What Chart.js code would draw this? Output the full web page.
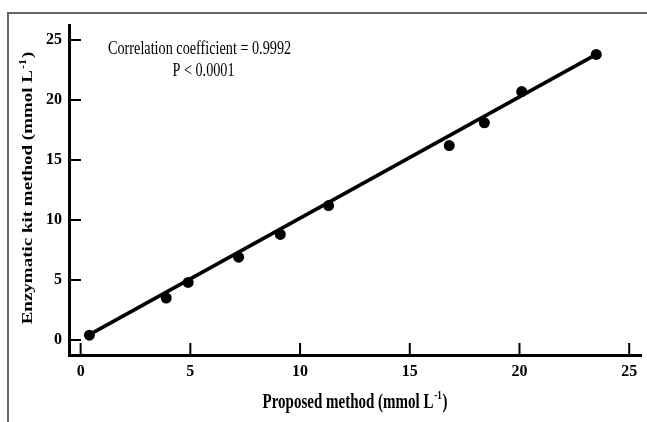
<!DOCTYPE html>
<html lang="en">
  <head>
    <meta charset="UTF-8" />
    <title>Proposed vs enzymatic kit method</title>
    <style>
      body {
        margin: 0;
        background: #fff;
        font-family: "Liberation Serif", serif;
      }
      #wrap {
        position: relative;
        width: 647px;
        height: 422px;
      }
      #frame {
        position: absolute;
        left: 7px;
        top: 12px;
        right: 0;
        bottom: 0;
        border-top: 2px solid #666;
        border-left: 2px solid #666;
      }
      canvas {
        position: absolute;
        left: 0;
        top: 0;
      }
    </style>
  </head>
  <body>
    <div id="wrap">
      <div id="frame"></div>
      <canvas id="corrChart" width="647" height="422"></canvas>
    </div>
    <script src="https://cdn.jsdelivr.net/npm/chart.js"></script>
    <script>
      // values (mmol L-1)
      const proposed = [0.4, 3.9, 4.9, 7.2, 9.1, 11.3, 16.8, 18.4, 20.1, 23.5];
      const enzymatic = [0.4, 3.5, 4.8, 6.9, 8.8, 11.2, 16.2, 18.1, 20.7, 23.8];

      // fitted line end points
      const fitX = [0.4, 23.5];
      const fitY = [0.45, 23.8];

      const xTicks = [0, 5, 10, 15, 20, 25];
      const yTicks = [0, 5, 10, 15, 20, 25];

      const statsText = ["Correlation coefficient = 0.9992", "P < 0.0001"];
      const xTitle = ["Proposed method (mmol L", "-1", ")"];
      const yTitle = ["Enzymatic kit method (mmol L", "-1", ")"];

      const FONT = '"Liberation Serif", "Times New Roman", serif';

      // draws "text + superscript + text" centred on 0,0 (ctx already positioned)
      function drawSupText(ctx, parts, size, bold) {
        const w = bold ? "bold " : "";
        const big = w + size + "px " + FONT;
        const small = w + Math.round(size * 0.62) + "px " + FONT;
        ctx.font = big;
        const w0 = ctx.measureText(parts[0]).width;
        const w2 = ctx.measureText(parts[2]).width;
        ctx.font = small;
        const w1 = ctx.measureText(parts[1]).width + 2;
        let x = -(w0 + w1 + w2) / 2;
        ctx.textBaseline = "alphabetic";
        ctx.textAlign = "left";
        ctx.font = big;
        ctx.fillText(parts[0], x, size * 0.34);
        x += w0;
        ctx.font = small;
        ctx.fillText(parts[1], x + 1, size * 0.34 - size * 0.42);
        x += w1;
        ctx.font = big;
        ctx.fillText(parts[2], x, size * 0.34);
      }

      const decorPlugin = {
        id: "decor",
        afterDraw(chart) {
          const ctx = chart.ctx;
          const xs = chart.scales.x;
          const ys = chart.scales.y;
          const area = chart.chartArea;

          // inward tick marks
          ctx.save();
          ctx.strokeStyle = "#000";
          ctx.lineWidth = 2;
          ctx.beginPath();
          xTicks.forEach((v) => {
            const px = xs.getPixelForValue(v);
            ctx.moveTo(px, area.bottom);
            ctx.lineTo(px, area.bottom - 12);
          });
          yTicks.forEach((v) => {
            const py = ys.getPixelForValue(v);
            ctx.moveTo(area.left, py);
            ctx.lineTo(area.left + 12, py);
          });
          ctx.stroke();
          ctx.restore();

          // statistics text
          ctx.save();
          ctx.fillStyle = "#000";
          ctx.font = "18px " + FONT;
          ctx.textAlign = "center";
          ctx.textBaseline = "middle";
          ctx.translate(xs.getPixelForValue(5.42), ys.getPixelForValue(24.25));
          ctx.scale(0.79, 1);
          ctx.fillText(statsText[0], 0, 0);
          ctx.restore();
          ctx.save();
          ctx.fillStyle = "#000";
          ctx.font = "18px " + FONT;
          ctx.textAlign = "center";
          ctx.textBaseline = "middle";
          ctx.translate(xs.getPixelForValue(5.6), ys.getPixelForValue(22.4));
          ctx.scale(0.79, 1);
          ctx.fillText(statsText[1], 0, 0);
          ctx.restore();

          // x axis title
          ctx.save();
          ctx.fillStyle = "#000";
          ctx.translate(355, 401);
          ctx.scale(0.75, 1);
          drawSupText(ctx, xTitle, 20, true);
          ctx.restore();

          // y axis title
          ctx.save();
          ctx.fillStyle = "#000";
          ctx.translate(27, 188);
          ctx.rotate(-Math.PI / 2);
          ctx.scale(1, 0.78);
          drawSupText(ctx, yTitle, 19, true);
          ctx.restore();
        },
      };

      const points = proposed.map((x, i) => ({ x: x, y: enzymatic[i] }));
      const fitLine = fitX.map((x, i) => ({ x: x, y: fitY[i] }));

      const tickFont = { family: FONT, size: 16, weight: "bold" };

      new Chart(document.getElementById("corrChart").getContext("2d"), {
        type: "scatter",
        data: {
          datasets: [
            {
              type: "line",
              data: fitLine,
              borderColor: "#000",
              borderWidth: 3.5,
              pointRadius: 0,
              fill: false,
            },
            {
              data: points,
              backgroundColor: "#000",
              borderColor: "#000",
              pointRadius: 5.5,
              pointBorderWidth: 0,
            },
          ],
        },
        options: {
          responsive: false,
          animation: false,
          layout: { padding: { left: 0, right: 4, top: 25, bottom: 0 } },
          plugins: {
            legend: { display: false },
            tooltip: { enabled: false },
          },
          scales: {
            x: {
              type: "linear",
              min: -0.53,
              max: 25.56,
              afterBuildTicks: (s) => {
                s.ticks = xTicks.map((v) => ({ value: v }));
              },
              afterFit: (s) => {
                s.height = 67;
              },
              grid: { display: false, drawTicks: false },
              border: { display: true, color: "#000", width: 3 },
              ticks: { color: "#000", font: tickFont, padding: 7, maxRotation: 0 },
            },
            y: {
              type: "linear",
              min: -1.25,
              max: 26.25,
              afterBuildTicks: (s) => {
                s.ticks = yTicks.map((v) => ({ value: v }));
              },
              afterFit: (s) => {
                s.width = 69;
              },
              grid: { display: false, drawTicks: false },
              border: { display: true, color: "#000", width: 3 },
              ticks: { color: "#000", font: tickFont, padding: 7 },
            },
          },
        },
        plugins: [decorPlugin],
      });
    </script>
  </body>
</html>
